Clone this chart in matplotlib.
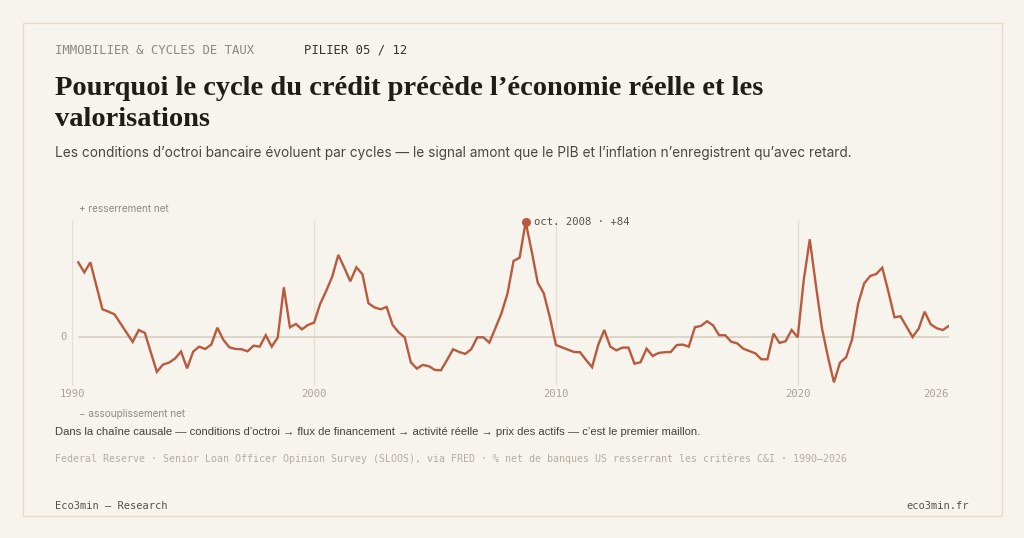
import matplotlib
matplotlib.use("Agg")
import matplotlib.pyplot as plt
import matplotlib.patches as patches
import numpy as np
import pandas as pd

# SLOOS - net % of US banks tightening C&I standards, quarterly from 1990Q2
start_quarter = "1990-04-01"
tightening = [
    54.6, 47.3, 54.6, 37.4, 20.4, 18.7, 16.7, 10.0, 3.4, -3.4,
    5.3, 3.2, -10.9, -25.2, -19.9, -18.4, -15.5, -10.4, -22.6, -10.4,
    -6.8, -8.5, -5.3, 7.0, -1.9, -7.3, -8.5, -8.7, -10.2, -6.1,
    -6.8, 1.5, -6.8, -0.2, 36.4, 7.3, 9.7, 5.8, 9.0, 10.7,
    24.3, 33.7, 44.2, 60.0, 50.7, 40.8, 51.0, 45.9, 24.8, 21.8,
    20.4, 22.1, 9.0, 3.6, 0.0, -18.2, -22.8, -20.1, -21.1, -23.8,
    -24.0, -16.5, -8.7, -10.7, -12.1, -8.7, 0.0, 0.0, -3.9, 6.6,
    17.5, 32.0, 55.6, 58.0, 84.0, 62.4, 39.8, 32.0, 14.6, -5.6,
    -7.3, -9.0, -10.7, -10.9, -16.5, -21.8, -5.6, 5.3, -6.8, -9.5,
    -7.5, -7.5, -19.2, -18.2, -8.3, -13.6, -11.4, -10.9, -10.7, -5.6,
    -5.3, -6.8, 7.3, 8.3, 11.7, 8.7, 1.5, 1.5, -3.2, -4.4,
    -8.3, -10.0, -11.7, -16.0, -16.0, 2.7, -4.1, -2.9, 5.3, 0.0,
    41.7, 71.4, 38.1, 6.6, -14.1, -32.8, -18.4, -14.6, -1.5, 24.3,
    39.3, 44.7, 46.1, 50.7, 33.3, 14.6, 15.3, 7.8, 0.2, 6.3,
    18.7, 9.5, 6.6, 5.3, 8.3,
]
grid_years = [1990, 2000, 2010, 2020]
last_label = "2026"
peak_label = "oct. 2008 · +84"

kicker = "IMMOBILIER & CYCLES DE TAUX"
pillar = "PILIER 05 / 12"
title = "Pourquoi le cycle du crédit précède l’économie réelle et les\nvalorisations"
subtitle = ("Les conditions d’octroi bancaire évoluent par cycles — le signal amont "
            "que le PIB et l’inflation n’enregistrent qu’avec retard.")
up_label = "+ resserrement net"
down_label = "− assouplissement net"
causal = ("Dans la chaîne causale — conditions d’octroi → flux de financement → "
          "activité réelle → prix des actifs — c’est le premier maillon.")
source = ("Federal Reserve · Senior Loan Officer Opinion Survey (SLOOS), via FRED · "
          "% net de banques US resserrant les critères C&I · 1990–2026")
brand = "Eco3min — Research"
site = "eco3min.fr"

BG = "#f7f4ee"
BORDER = "#e4ddcd"
LINE = "#b95a3d"
ZERO = "#d5cebe"
VGRID = "#e6e0d3"
MONO = "DejaVu Sans Mono"

dates = pd.date_range(start_quarter, periods=len(tightening), freq="QS")
values = np.array(tightening)

W, H = 1024, 538
fig = plt.figure(figsize=(W / 100, H / 100), dpi=100)
fig.patch.set_facecolor(BG)


def px(x, y):
    return x / W, 1 - y / H


# card outline
fig.patches.append(patches.Rectangle(px(22.5, 515.5), 979 / W, 493 / H,
                                     transform=fig.transFigure, fill=False,
                                     edgecolor=BORDER, linewidth=1.0))

# axes placed so that 1990 -> x=72, 2020 -> x=798, 0 -> y=337, 84 -> y=222
x0 = pd.Timestamp("1990-01-01")
x1 = pd.Timestamp("2026-04-01")
y0, y1 = -36, 90
ax_left, ax_right = 72.3, 948.8
ax_top = 337.3 - y1 * 1.373
ax_bot = 337.3 - y0 * 1.373
ax = fig.add_axes([ax_left / W, 1 - ax_bot / H, (ax_right - ax_left) / W, (ax_bot - ax_top) / H])
ax.set_facecolor("none")
ax.set_xlim(x0, x1)
ax.set_ylim(y0, y1)
for s in ax.spines.values():
    s.set_visible(False)
ax.set_xticks([])
ax.set_yticks([])

for yr in grid_years:
    ax.vlines(pd.Timestamp(f"{yr}-01-01"), -34.7, 85.4, color=VGRID, lw=1.0, zorder=1)
ax.hlines(0, dates[0], dates[-1], color=ZERO, lw=1.1, zorder=1)

ax.plot(dates, values, color=LINE, lw=1.7, solid_joinstyle="miter", zorder=3)

ipk = int(np.argmax(values))
ax.plot(dates[ipk], values[ipk], "o", color=LINE, ms=5.5, zorder=4)
ax.annotate(peak_label, (dates[ipk], values[ipk]), xytext=(6, 0), textcoords="offset points",
            va="center", ha="left", fontsize=7.6, family=MONO, color="#555049")

# tick labels
for yr in grid_years:
    ax.text(pd.Timestamp(f"{yr}-01-01"), -41.5, str(yr), ha="center", va="center",
            fontsize=7.6, family=MONO, color="#aaa498")
ax.text(dates[-1], -41.5, last_label, ha="right", va="center",
        fontsize=7.6, family=MONO, color="#aaa498")
ax.annotate("0", (x0, 0), xytext=(-4, 0), textcoords="offset points", ha="right", va="center",
            fontsize=7.6, family=MONO, color="#aaa498")

# header texts
fig.text(*px(55, 50), kicker, fontsize=8.8, family=MONO, color="#8d8880", va="center")
fig.text(*px(304, 50), pillar, fontsize=8.8, family=MONO, color="#35322e", va="center")
fig.text(*px(55, 76), title, fontsize=20.5, family="Liberation Serif", weight="bold",
         color="#1f1d1a", va="top", linespacing=1.3)
fig.text(*px(55, 153), subtitle, fontsize=9.8, family="Inter", color="#4a4741", va="center")

fig.text(*px(79, 209), up_label, fontsize=7.2, family="Inter", color="#8e8a82", va="center")
fig.text(*px(79, 414), down_label, fontsize=7.2, family="Inter", color="#8e8a82", va="center")

fig.text(*px(55, 432), causal, fontsize=8.1, family="Liberation Sans", color="#45423d", va="center")
fig.text(*px(55, 459), source, fontsize=7.2, family=MONO, color="#b3ada2", va="center")

fig.text(*px(55, 506), brand, fontsize=7.5, family=MONO, color="#55514a", va="center")
fig.text(*px(969, 506), site, fontsize=7.5, family=MONO, color="#55514a", va="center", ha="right")

fig.savefig("out.png", dpi=100, facecolor=BG)
